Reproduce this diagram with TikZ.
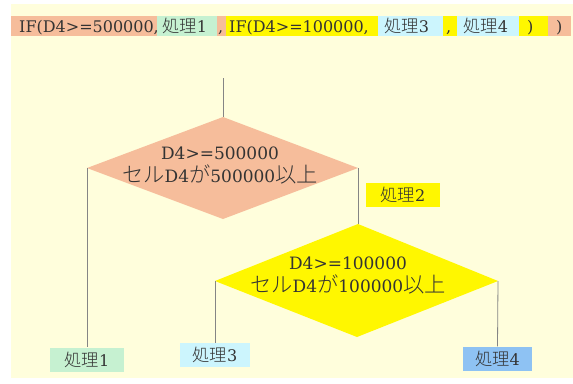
\documentclass[tikz,border=0pt]{standalone}
\usepackage{fontspec}
\setmainfont{DejaVu Serif}
\newfontfamily\jp[Scale=1.08]{Noto Sans CJK JP Light}
\newfontfamily\jpd[Scale=1.25]{Noto Sans CJK JP Light}
\definecolor{cream}{HTML}{FFFEDC}
\definecolor{salmon}{HTML}{F6BD9B}
\definecolor{mint}{HTML}{C6F1D1}
\definecolor{yel}{HTML}{FFF700}
\definecolor{cya}{HTML}{CCF5FD}
\definecolor{blu}{HTML}{8EC2F3}
\definecolor{ink}{HTML}{333333}
\definecolor{wire}{HTML}{858585}
\begin{document}
\begin{tikzpicture}[x=1pt,y=-1pt,
  hdr/.style={anchor=base west,inner sep=0pt,text=ink,font=\fontsize{16}{19}\selectfont},
  dtext/.style={align=center,inner sep=0pt,text=ink,font=\fontsize{17}{23}\selectfont},
  lbl/.style={fill=#1,text=ink,inner sep=0pt,minimum height=24pt,font=\fontsize{16}{19}\selectfont},
  wireline/.style={draw=wire,line width=0.8pt}]
\useasboundingbox (0,0) rectangle (573,383);
\fill[white] (0,0) rectangle (573,383);
\fill[cream] (11,4) rectangle (573,378);
% header bar
\fill[salmon] (11,16) rectangle (157,36);
\fill[mint] (157,16) rectangle (217,36);
\fill[salmon] (217,16) rectangle (226,36);
\fill[yel] (226,16) rectangle (378,36);
\fill[cya] (378,16) rectangle (443,36);
\fill[yel] (443,16) rectangle (457,36);
\fill[cya] (457,16) rectangle (519,36);
\fill[yel] (519,16) rectangle (548,36);
\fill[salmon] (548,16) rectangle (571,36);
\node[hdr] (h1) at (19,32) {IF(D4>=500000,};
\node[hdr] (h2) at (162,32) {{\jp 処理}1};
\node[hdr] (h3) at (218,32) {,};
\node[hdr] (h4) at (229,32) {IF(D4>=100000,};
\node[hdr] (h5) at (384,32) {{\jp 処理}3};
\node[hdr] (h6) at (446,32) {,};
\node[hdr] (h7) at (463,32) {{\jp 処理}4};
\node[hdr] (h8) at (527,32) {)};
\node[hdr] (h9) at (556,32) {)};
% diamond 1
\coordinate (start) at (223,78);
\coordinate (d1t) at (223,117);
\coordinate (d1l) at (87,168);
\coordinate (d1r) at (358,168);
\coordinate (d1b) at (223,219);
\fill[salmon] (d1t) -- (d1r) -- (d1b) -- (d1l) -- cycle;
\node[dtext] (t1) at (220,166) {D4>=500000\\{\jpd セル}D4{\jpd が}500000{\jpd 以上}};
% diamond 2
\coordinate (d2t) at (358,224);
\coordinate (d2l) at (215,281);
\coordinate (d2r) at (498,281);
\coordinate (d2b) at (357,337);
\fill[yel] (d2t) -- (d2r) -- (d2b) -- (d2l) -- cycle;
\node[dtext] (t2) at (348,276) {D4>=100000\\{\jpd セル}D4{\jpd が}100000{\jpd 以上}};
% labels
\node[lbl=mint,minimum width=74pt] (p1) at (87,359.5) {{\jp 処理}1};
\node[lbl=yel,minimum width=74pt] (p2) at (403,194.5) {{\jp 処理}2};
\node[lbl=cya,minimum width=70pt] (p3) at (215,355) {{\jp 処理}3};
\node[lbl=blu,minimum width=69pt] (p4) at (497.5,358.5) {{\jp 処理}4};
% connectors
\draw[wireline] (start) -- (d1t);
\draw[wireline] (d1l) -- (p1.north);
\draw[wireline] (d1r) -- (d2t);
\draw[wireline] (d2l) -- (p3.north);
\draw[wireline] (d2r) -- (p4.north);
\end{tikzpicture}
\end{document}
